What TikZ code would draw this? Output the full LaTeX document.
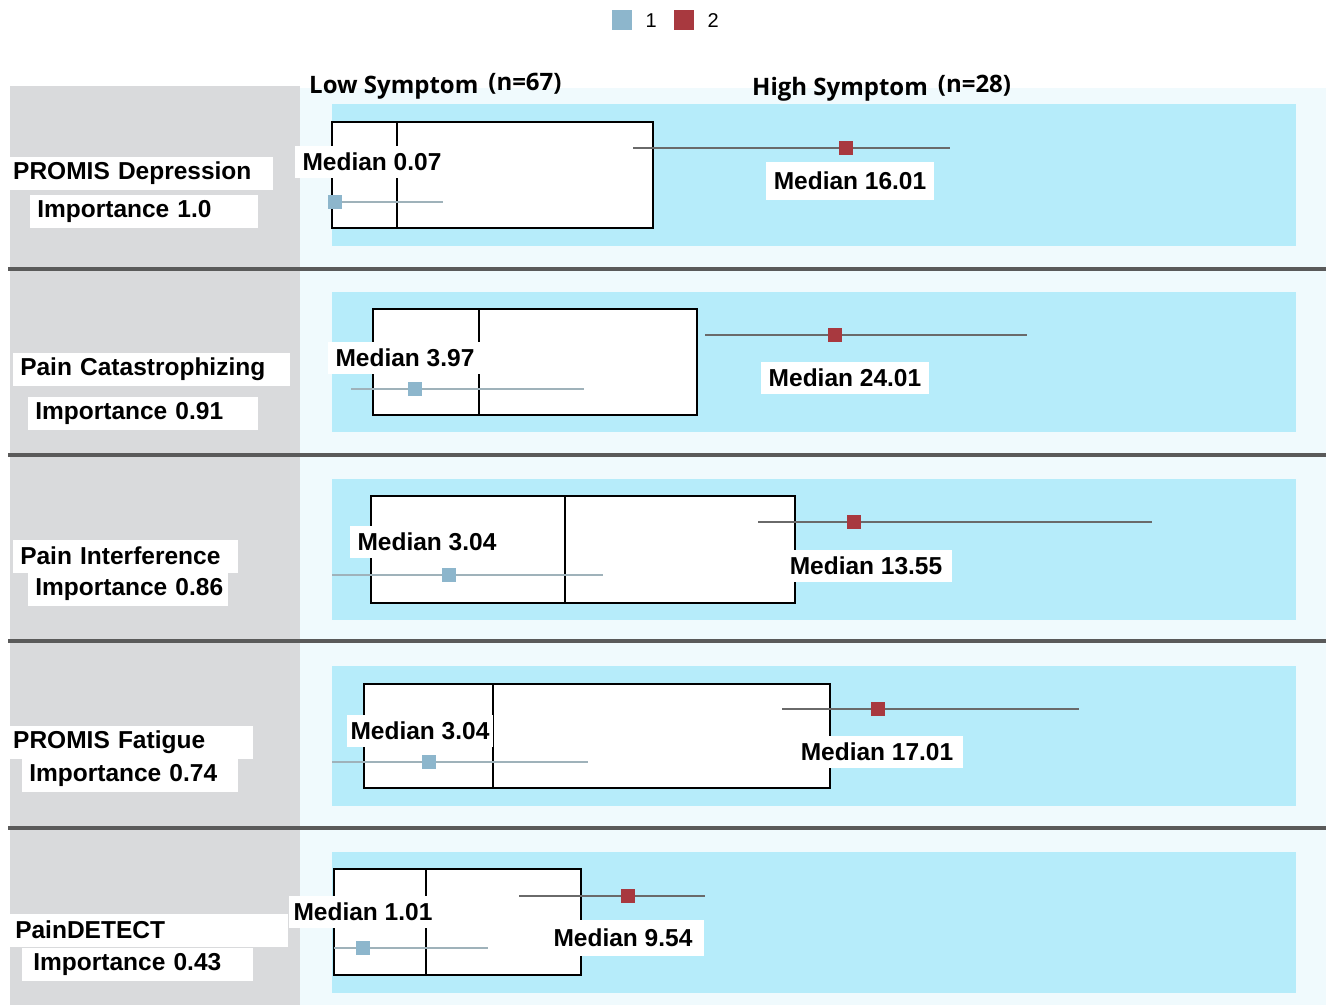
\documentclass[tikz,border=0pt]{standalone}
\usepackage{fontspec}
\setmainfont{Liberation Sans}
\newfontfamily\hdrfont{Open Sans}
\definecolor{graycol}{HTML}{D9DADC}
\definecolor{paleblue}{HTML}{F0FAFD}
\definecolor{panelblue}{HTML}{B6ECFA}
\definecolor{sepgray}{HTML}{5A5A5A}
\definecolor{lowc}{HTML}{8DB6CC}
\definecolor{highc}{HTML}{A8393F}
\definecolor{loww}{HTML}{9FB2BA}
\definecolor{highw}{HTML}{6A6A6A}
\tikzset{
  big/.style={font=\fontsize{24}{26}\selectfont},
  hdr/.style={font=\hdrfont\fontsize{24}{27}\selectfont, anchor=west, inner sep=0pt},
  medlab/.style={fill=white, font=\bfseries\fontsize{24.5}{26}\selectfont, inner xsep=8pt, inner ysep=7pt},
  varlab/.style={fill=white, font=\bfseries\fontsize{24.5}{26}\selectfont, anchor=west, align=left, inner xsep=3pt, inner ysep=0pt, minimum height=33pt},
  sepline/.style={draw=sepgray, line width=4pt},
  quartbox/.style={draw=black, fill=white, line width=1.8pt},
  medline/.style={draw=black, line width=1.8pt},
  lowwhisk/.style={draw=loww, line width=2pt},
  highwhisk/.style={draw=highw, line width=2pt},
  lowmark/.style={fill=lowc, draw=none, minimum size=14pt, inner sep=0pt},
  highmark/.style={fill=highc, draw=none, minimum size=14pt, inner sep=0pt},
}
\begin{document}
\begin{tikzpicture}[x=1pt,y=-1pt]
\useasboundingbox (0,0) rectangle (1326,1005);
\fill[white] (0,0) rectangle (1326,1005);
% backgrounds
\fill[graycol] (10,86) rectangle (300,1005);
\fill[paleblue] (300,88) rectangle (1326,1005);
% legend
\node[lowmark, minimum size=20pt] (lg1) at (622,20) {};
\node[big, font=\fontsize{20}{22}\selectfont, anchor=west] (lt1) at (642,21) {1};
\node[highmark, minimum size=20pt] (lg2) at (684,20) {};
\node[big, font=\fontsize{20}{22}\selectfont, anchor=west] (lt2) at (704,21) {2};
% headers
\node[hdr] (hlow) at (309,86) {\bfseries Low Symptom\hspace{10pt}\raisebox{3pt}{(n=67)}};
\node[hdr] (hhigh) at (752,88) {\bfseries High Symptom\hspace{10pt}\raisebox{3pt}{(n=28)}};
% separators
\coordinate (s1a) at (8,269); \coordinate (s1b) at (1326,269);
\coordinate (s2a) at (8,455); \coordinate (s2b) at (1326,455);
\coordinate (s3a) at (8,641); \coordinate (s3b) at (1326,641);
\coordinate (s4a) at (8,828); \coordinate (s4b) at (1326,828);
\draw[sepline] (s1a) -- (s1b);
\draw[sepline] (s2a) -- (s2b);
\draw[sepline] (s3a) -- (s3b);
\draw[sepline] (s4a) -- (s4b);
% blue panels
\fill[panelblue] (332,104) rectangle (1296,246);
\fill[panelblue] (332,292) rectangle (1296,432);
\fill[panelblue] (332,479) rectangle (1296,620);
\fill[panelblue] (332,666) rectangle (1296,806);
\fill[panelblue] (332,852) rectangle (1296,993);

% ---------- Row 1 ----------
\draw[quartbox] (332,122) rectangle (653,228);
\coordinate (m1a) at (397,122); \coordinate (m1b) at (397,228);
\draw[medline] (m1a) -- (m1b);
\coordinate (l1a) at (332,202); \coordinate (l1b) at (443,202);
\draw[lowwhisk] (l1a) -- (l1b);
\coordinate (h1a) at (633,148); \coordinate (h1b) at (950,148);
\draw[highwhisk] (h1a) -- (h1b);
\node[lowmark] (lm1) at (335,202) {};
\node[highmark] (hm1) at (846,148) {};
\node[medlab] (ml1) at (372,162) {Median 0.07};
\node[medlab, inner ysep=10pt] (mh1) at (850,181) {Median 16.01};
\node[varlab, text width=257pt] (v1) at (10,173) {PROMIS Depression};
\node[varlab, text width=222pt] (i1) at (30,211) {\,Importance 1.0};

% ---------- Row 2 ----------
\draw[quartbox] (373,309) rectangle (697,415);
\coordinate (m2a) at (479,309); \coordinate (m2b) at (479,415);
\draw[medline] (m2a) -- (m2b);
\coordinate (l2a) at (351,389); \coordinate (l2b) at (584,389);
\draw[lowwhisk] (l2a) -- (l2b);
\coordinate (h2a) at (705,335); \coordinate (h2b) at (1027,335);
\draw[highwhisk] (h2a) -- (h2b);
\node[lowmark] (lm2) at (415,389) {};
\node[highmark] (hm2) at (835,335) {};
\node[medlab] (ml2) at (405,358) {Median 3.97};
\node[medlab] (mh2) at (845,378) {Median 24.01};
\node[varlab, text width=271pt] (v2) at (13,369) {\,Pain Catastrophizing};
\node[varlab, text width=224pt] (i2) at (28,413) {\,Importance 0.91};

% ---------- Row 3 ----------
\draw[quartbox] (371,496) rectangle (795,603);
\coordinate (m3a) at (565,496); \coordinate (m3b) at (565,603);
\draw[medline] (m3a) -- (m3b);
\coordinate (l3a) at (332,575); \coordinate (l3b) at (603,575);
\draw[lowwhisk] (l3a) -- (l3b);
\coordinate (h3a) at (758,522); \coordinate (h3b) at (1152,522);
\draw[highwhisk] (h3a) -- (h3b);
\node[lowmark] (lm3) at (449,575) {};
\node[highmark] (hm3) at (854,522) {};
\node[medlab] (ml3) at (427,542) {Median 3.04};
\node[medlab, inner xsep=10pt] (mh3) at (866,566) {Median 13.55};
\node[varlab, text width=219pt] (v3) at (13,556) {\,Pain Interference};
\node[varlab, text width=194pt] (i3) at (28,589) {\,Importance 0.86};

% ---------- Row 4 ----------
\draw[quartbox] (364,684) rectangle (830,788);
\coordinate (m4a) at (493,684); \coordinate (m4b) at (493,788);
\draw[medline] (m4a) -- (m4b);
\coordinate (l4a) at (332,762); \coordinate (l4b) at (588,762);
\draw[lowwhisk] (l4a) -- (l4b);
\coordinate (h4a) at (782,709); \coordinate (h4b) at (1079,709);
\draw[highwhisk] (h4a) -- (h4b);
\node[lowmark] (lm4) at (429,762) {};
\node[highmark] (hm4) at (878,709) {};
\node[medlab, inner xsep=4pt] (ml4) at (420,731) {Median 3.04};
\node[medlab, inner xsep=10pt] (mh4) at (877,752) {Median 17.01};
\node[varlab, text width=237pt] (v4) at (10,742) {PROMIS Fatigue};
\node[varlab, text width=210pt] (i4) at (22,775) {\,Importance 0.74};

% ---------- Row 5 ----------
\draw[quartbox] (334,869) rectangle (581,975);
\coordinate (m5a) at (426,869); \coordinate (m5b) at (426,975);
\draw[medline] (m5a) -- (m5b);
\coordinate (l5a) at (334,948); \coordinate (l5b) at (488,948);
\draw[lowwhisk] (l5a) -- (l5b);
\coordinate (h5a) at (519,896); \coordinate (h5b) at (705,896);
\draw[highwhisk] (h5a) -- (h5b);
\node[lowmark] (lm5) at (363,948) {};
\node[highmark] (hm5) at (628,896) {};
\node[medlab, inner xsep=5pt] (ml5) at (363,912) {Median 1.01};
\node[medlab, inner xsep=12pt, inner ysep=9pt] (mh5) at (623,938) {Median 9.54};
\node[varlab, text width=274pt] (v5) at (8,930) {\,PainDETECT};
\node[varlab, text width=225pt] (i5) at (22,964) {\,\,Importance 0.43};
\end{tikzpicture}
\end{document}
